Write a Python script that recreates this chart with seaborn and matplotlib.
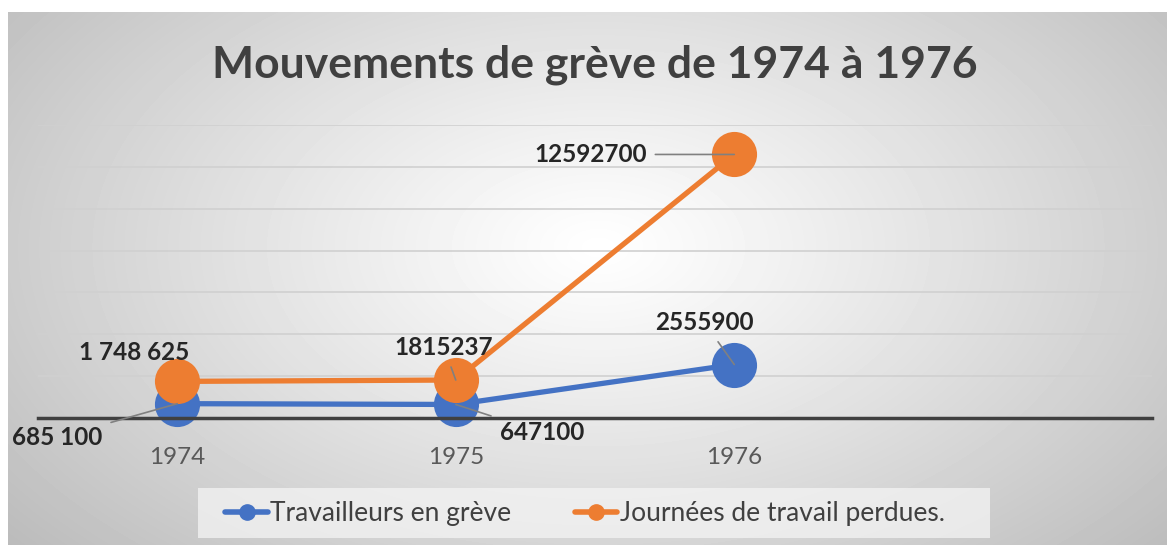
import numpy as np
import pandas as pd
import seaborn as sns
import matplotlib.pyplot as plt
from matplotlib.lines import Line2D
from matplotlib.patches import Rectangle

# data
years = ['1974', '1975', '1976']
travailleurs = [685100, 647100, 2555900]
journees = [1748625, 1815237, 12592700]
labels_trav = ['685 100', '647100', '2555900']
labels_jour = ['1 748 625', '1815237', '12592700']
series_names = ['Travailleurs en grève', 'Journées de travail perdues.']
colors = ['#4472C4', '#ED7D31']

df = pd.DataFrame({
    'pos': list(range(len(years))) * 2,
    'valeur': travailleurs + journees,
    'serie': [series_names[0]] * len(years) + [series_names[1]] * len(years),
})

sns.set_theme(style='white')
plt.rcParams['font.family'] = ['Lato', 'DejaVu Sans']

W, H = 1167, 547
fig = plt.figure(figsize=(W / 100, H / 100), dpi=100)
fig.patch.set_facecolor('white')

# radial grey gradient behind the chart (Excel style)
bw, bh = 1159, 533
bg = fig.add_axes([8 / W, 2 / H, bw / W, bh / H], zorder=0)
yy, xx = np.mgrid[0:bh, 0:bw]
d = np.sqrt(((xx - 590) / 700.0) ** 2 + ((yy - 235) / 420.0) ** 2)
img = 1 - 0.24 * np.clip(d, 0, 1.2) ** 1.1
bg.imshow(img, cmap='gray', vmin=0, vmax=1, aspect='auto', interpolation='bilinear')
bg.axis('off')

# plot area
ax = fig.add_axes([38 / W, 1 - 418 / H, 1114 / W, 293 / H], zorder=1)
ax.patch.set_alpha(0)

sns.lineplot(data=df, x='pos', y='valeur', hue='serie', palette=colors,
             marker='o', markersize=32.5, markeredgewidth=0, linewidth=3.8,
             ax=ax, legend=False)
for ln in ax.lines:
    ln.set_clip_on(False)

ax.set_xlim(-0.5, 3.5)
ax.set_ylim(0, 14e6)
ax.set_yticks(np.arange(0, 14e6 + 1, 2e6))
ax.yaxis.grid(True, color='#d0d0d0', lw=1.2)
ax.set_axisbelow(True)
ax.tick_params(left=False, labelleft=False, bottom=False, pad=15)
ax.set_xticks(range(len(years)))
ax.set_xticklabels(years, fontsize=17.5, color='#595959')
ax.set_xlabel('')
ax.set_ylabel('')
for s in ['top', 'left', 'right']:
    ax.spines[s].set_visible(False)
ax.spines['bottom'].set_color('#404040')
ax.spines['bottom'].set_linewidth(2.5)

# data labels: (x, y, text, dx px, dy px (down +), leader)
px = 0.72
annots = [
    (0, journees[0], labels_jour[0], -43, -29, False),
    (0, travailleurs[0], labels_trav[0], -120, 34, True),
    (1, journees[1], labels_jour[1], -12, -33, True),
    (1, travailleurs[1], labels_trav[1], 86, 28, True),
    (2, journees[2], labels_jour[2], -144, 0, True),
    (2, travailleurs[2], labels_trav[2], -30, -42, True),
]
for x, y, t, dx, dy, lead in annots:
    kw = {}
    if lead:
        kw['arrowprops'] = dict(arrowstyle='-', color='#808080', lw=1.2,
                                shrinkA=4, shrinkB=0)
    ax.annotate(t, xy=(x, y), xytext=(dx * px, -dy * px), textcoords='offset points',
                ha='center', va='center', fontsize=17.5, fontweight='bold',
                color='#262626', annotation_clip=False, zorder=5, **kw)

fig.text(595 / W, 1 - 65 / H, 'Mouvements de grève de 1974 à 1976',
         ha='center', va='center', fontsize=32, fontweight='bold', color='#404040')

# legend
fig.patches.append(Rectangle((198 / W, 1 - 538 / H), 792 / W, 50 / H,
                             transform=fig.transFigure, facecolor='#f4f4f4',
                             alpha=0.75, edgecolor='none', zorder=1))
handles = [Line2D([0], [0], color=c, lw=4, marker='o', markersize=11) for c in colors]
leg = fig.legend(handles, series_names, loc='center', bbox_to_anchor=(585 / W, 1 - 514 / H),
                 ncol=2, frameon=False, fontsize=19, handlelength=1.6,
                 columnspacing=2.4, handletextpad=0.1)
for t in leg.get_texts():
    t.set_color('#404040')

fig.savefig('out.png', dpi=100)
